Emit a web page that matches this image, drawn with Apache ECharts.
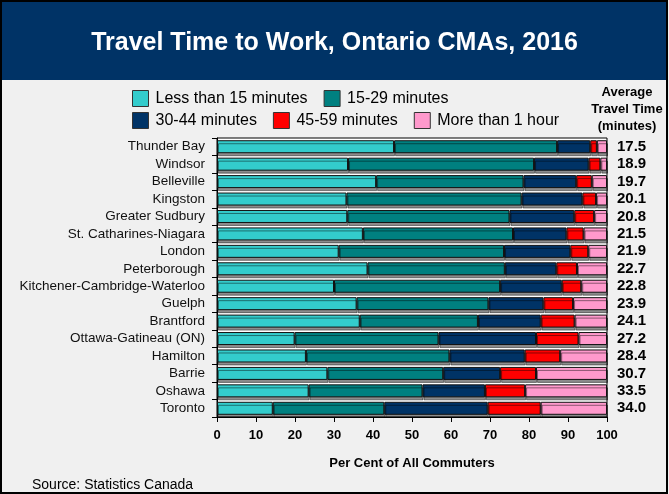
<!DOCTYPE html>
<html>
<head>
<meta charset="utf-8">
<script src="https://cdn.jsdelivr.net/npm/echarts@6/dist/echarts.min.js"></script>
<style>
  html, body { margin: 0; padding: 0; background: #f0f0f0; }
  #chart { width: 669px; height: 494px; }
</style>
</head>
<body>
<div id="chart"></div>
<script>
// Census metropolitan areas, listed top to bottom
const cities = ['Thunder Bay', 'Windsor', 'Belleville', 'Kingston', 'Greater Sudbury',
  'St. Catharines-Niagara', 'London', 'Peterborough', 'Kitchener-Cambridge-Waterloo',
  'Guelph', 'Brantford', 'Ottawa-Gatineau (ON)', 'Hamilton', 'Barrie', 'Oshawa', 'Toronto'];

// Share of commuters (%) by travel-time band
const under15 = [45.4, 33.6, 40.8, 33.2, 33.4, 37.4, 31.2, 38.6, 30.0, 35.8, 36.6, 19.9, 22.8, 28.3, 23.5, 14.3];
const min15to29 = [41.8, 47.7, 37.8, 44.9, 41.6, 38.5, 42.4, 35.2, 42.6, 33.8, 30.3, 36.9, 36.8, 29.7, 29.2, 28.6];
const min30to44 = [8.5, 14.0, 13.5, 15.6, 16.6, 13.7, 17.0, 13.2, 15.8, 14.1, 16.1, 25.0, 19.3, 14.6, 16.0, 26.5];
const min45to59 = [1.7, 3.0, 4.0, 3.5, 5.1, 4.4, 4.6, 5.3, 5.0, 7.6, 8.7, 10.9, 9.1, 9.2, 10.3, 13.6];
const over60 = [2.6, 1.7, 3.9, 2.8, 3.3, 6.0, 4.8, 7.7, 6.6, 8.7, 8.3, 7.3, 12.0, 18.2, 21.0, 17.0];

// Average one-way travel time (minutes)
const avgMinutes = ['17.5', '18.9', '19.7', '20.1', '20.8', '21.5', '21.9', '22.7',
  '22.8', '23.9', '24.1', '27.2', '28.4', '30.7', '33.5', '34.0'];

const bandNames = ['Less than 15 minutes', '15-29 minutes', '30-44 minutes', '45-59 minutes', 'More than 1 hour'];
const bandValues = [under15, min15to29, min30to44, min45to59, over60];
const bandColors = ['#33cccc', '#008080', '#003366', '#ff0000', '#ff99cc'];

const FONT = 'Liberation Sans, Arial, sans-serif';

const chart = echarts.init(document.getElementById('chart'), null, { renderer: 'canvas' });

const series = bandNames.map((name, i) => ({
  name: name,
  type: 'bar',
  stack: 'share',
  barWidth: 13,
  data: bandValues[i],
  itemStyle: {
    color: bandColors[i],
    borderColor: '#111',
    borderWidth: 1,
    shadowColor: 'rgba(0,0,0,0.45)',
    shadowOffsetX: 1,
    shadowOffsetY: 3,
    shadowBlur: 0
  },
  emphasis: { disabled: true },
  animation: false
}));

const legendCommon = {
  orient: 'horizontal',
  icon: 'rect',
  itemWidth: 16,
  itemHeight: 16,
  itemGap: 16,
  textStyle: { fontFamily: FONT, fontSize: 16, color: '#000', padding: [0, 0, 0, 2] },
  itemStyle: { borderColor: '#333', borderWidth: 1 },
  selectedMode: false
};

chart.setOption({
  backgroundColor: '#f0f0f0',
  animation: false,
  graphic: [
    {
      type: 'rect', z: -1,
      shape: { x: 2, y: 2, width: 664, height: 78 },
      style: { fill: '#003366' }
    },
    {
      type: 'rect', z: 100, silent: true,
      shape: { x: 1, y: 1, width: 666, height: 492 },
      style: { fill: 'none', stroke: '#000', lineWidth: 2 }
    },
    {
      type: 'text', left: 'center', top: 31,
      style: { text: 'Travel Time to Work, Ontario CMAs, 2016', fill: '#fff',
        font: 'bold 25px ' + FONT }
    },
    {
      type: 'text', x: 627, y: 84,
      style: { text: 'Average\nTravel Time\n(minutes)', fill: '#000', align: 'center',
        verticalAlign: 'top', lineHeight: 17, font: 'bold 13px ' + FONT }
    },
    {
      type: 'text', left: 32, top: 478,
      style: { text: 'Source: Statistics Canada', fill: '#000', font: '14px ' + FONT }
    }
  ],
  legend: [
    Object.assign({ left: 127, top: 85, data: bandNames.slice(0, 2) }, legendCommon),
    Object.assign({ left: 127, top: 107, data: bandNames.slice(2) }, legendCommon)
  ],
  grid: {
    left: 217, right: 62, top: 138, bottom: 77,
    show: true, backgroundColor: '#fff', borderColor: '#000', borderWidth: 1,
    containLabel: false
  },
  xAxis: {
    type: 'value', min: 0, max: 100, interval: 10,
    name: 'Per Cent of All Commuters', nameLocation: 'middle', nameGap: 40,
    nameTextStyle: { fontFamily: FONT, fontSize: 13, fontWeight: 'bold', color: '#000' },
    axisLine: { show: true, lineStyle: { color: '#000' } },
    axisTick: { show: true, length: 5, lineStyle: { color: '#000' } },
    axisLabel: { fontFamily: FONT, fontSize: 13, fontWeight: 'bold', color: '#000', margin: 12 },
    splitLine: { show: false }
  },
  yAxis: [
    {
      type: 'category', inverse: true, data: cities,
      axisLine: { show: true, lineStyle: { color: '#000' } },
      axisTick: { show: true, length: 5, interval: 0, lineStyle: { color: '#000' } },
      axisLabel: { interval: 0, fontFamily: FONT, fontSize: 13.5, color: '#111', margin: 12 }
    },
    {
      type: 'category', inverse: true, position: 'right', data: avgMinutes,
      axisLine: { show: false },
      axisTick: { show: false },
      axisLabel: { interval: 0, fontFamily: FONT, fontSize: 15, fontWeight: 'bold', color: '#000',
        margin: 10 }
    }
  ],
  series: series
});
</script>
</body>
</html>
